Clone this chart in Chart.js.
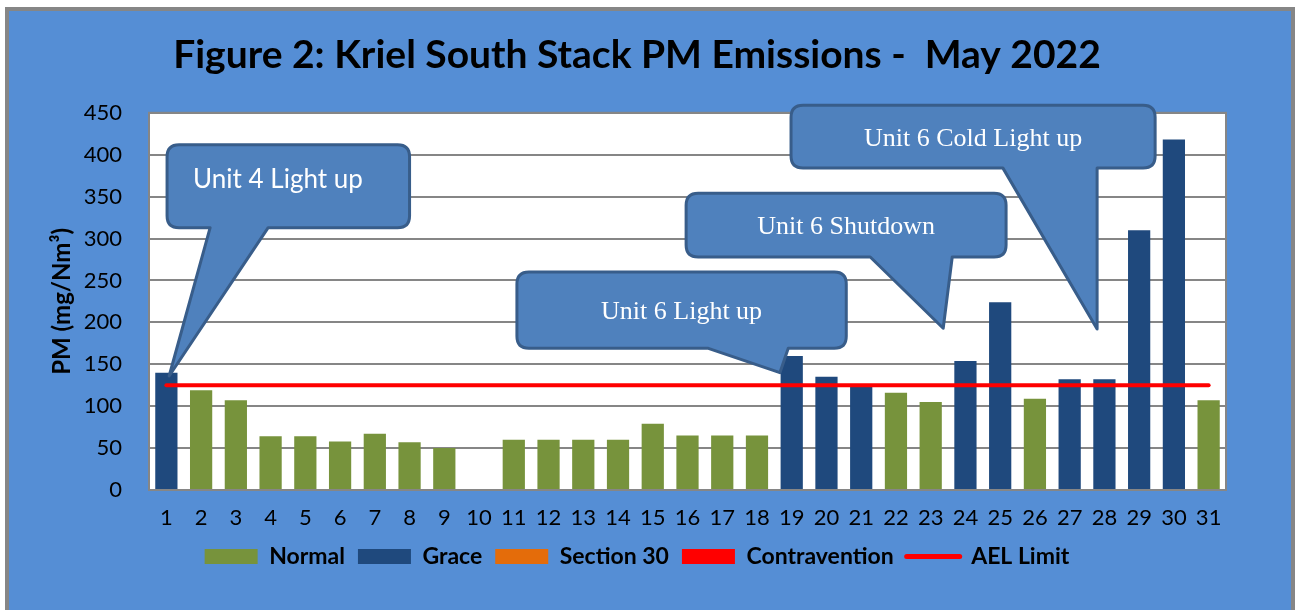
<!DOCTYPE html>
<html>
<head>
<meta charset="utf-8">
<script src="https://cdn.jsdelivr.net/npm/chart.js@4.4.0/dist/chart.umd.min.js"></script>
<style>
  html, body { margin: 0; padding: 0; background: #ffffff; }
  #wrap { width: 1300px; height: 610px; }
</style>
</head>
<body>
<div id="wrap"><canvas id="chart" width="1300" height="610"></canvas></div>
<script>
(function () {
    // days of May 2022
    var days = ['1','2','3','4','5','6','7','8','9','10','11','12','13','14','15','16',
                '17','18','19','20','21','22','23','24','25','26','27','28','29','30','31'];

    // PM in mg/Nm3, split by status (null = not that status)
    var normal = [null, 119, 107, 64, 64, 58, 67, 57, 50, null, 60, 60, 60, 60, 79, 65,
                  65, 65, null, null, null, 116, 105, null, null, 109, null, null, null, null, 107];
    var grace  = [140, null, null, null, null, null, null, null, null, null, null, null, null, null, null, null,
                  null, null, 160, 135, 124, null, null, 154, 224, null, 132, 132, 310, 418, null];
    var section30 = days.map(function () { return null; });
    var contravention = days.map(function () { return null; });
    var aelLimit = days.map(function () { return 125; });

    var yTicks = [0, 50, 100, 150, 200, 250, 300, 350, 400, 450];

    // callouts, in data units (x = day index, y = mg/Nm3)
    var callouts = [
        { text: 'Unit 4 Light up', font: '26px Lato', align: 'left', textX: 0.77, textY: 370,
          box: [0.02, 7.0, 412, 313], base: [1.26, 2.93], tip: [0.08, 136] },
        { text: 'Unit 6 Light up', font: '26px "Liberation Serif"', align: 'center', textY: 212,
          box: [10.09, 19.57, 260, 169], base: [15.6, 17.9], tip: [17.66, 140] },
        { text: 'Unit 6 Shutdown', font: '26px "Liberation Serif"', align: 'center', textY: 314,
          box: [14.96, 24.17, 354, 278], base: [20.26, 22.62], tip: [22.36, 193] },
        { text: 'Unit 6 Cold Light up', font: '26px "Liberation Serif"', align: 'center', textY: 418,
          box: [17.98, 28.46, 459, 384], base: [24.08, 26.79], tip: [26.79, 192] }
    ];

    var palette = { normal: '#77933C', grace: '#1F497D', s30: '#E46C0A', contra: '#FF0000', ael: '#FF0000' };

    var frame = {
        id: 'frame',
        beforeDraw: function (chart) {
            var ctx = chart.ctx;
            ctx.save();
            ctx.fillStyle = '#ffffff';
            ctx.fillRect(0, 0, chart.width, chart.height);
            ctx.fillStyle = '#558ED5';
            ctx.fillRect(5, 7, 1290, chart.height);
            ctx.strokeStyle = '#868686';
            ctx.lineWidth = 4;
            ctx.strokeRect(7, 9, 1286, chart.height);
            var a = chart.chartArea;
            ctx.fillStyle = '#ffffff';
            ctx.fillRect(a.left, a.top, a.right - a.left, a.bottom - a.top);
            ctx.restore();
        },
        afterDraw: function (chart) {
            var a = chart.chartArea, ctx = chart.ctx;
            ctx.save();
            ctx.strokeStyle = '#868686';
            ctx.lineWidth = 2;
            ctx.strokeRect(a.left, a.top, a.right - a.left, a.bottom - a.top);
            ctx.restore();
        }
    };

    var calloutPlugin = {
        id: 'callouts',
        afterDraw: function (chart) {
            var ctx = chart.ctx, xs = chart.scales.x, ys = chart.scales.y;
            var px = function (v) { return xs.getPixelForValue(v); };
            var py = function (v) { return ys.getPixelForValue(v); };
            callouts.forEach(function (c) {
                var l = px(c.box[0]), r = px(c.box[1]), t = py(c.box[2]), b = py(c.box[3]);
                var b0 = px(c.base[0]), b1 = px(c.base[1]);
                var tx = px(c.tip[0]), ty = py(c.tip[1]);
                var rad = 12;
                ctx.save();
                ctx.beginPath();
                ctx.moveTo(l + rad, t);
                ctx.lineTo(r - rad, t);
                ctx.quadraticCurveTo(r, t, r, t + rad);
                ctx.lineTo(r, b - rad);
                ctx.quadraticCurveTo(r, b, r - rad, b);
                ctx.lineTo(b1, b);
                ctx.lineTo(tx, ty);
                ctx.lineTo(b0, b);
                ctx.lineTo(l + rad, b);
                ctx.quadraticCurveTo(l, b, l, b - rad);
                ctx.lineTo(l, t + rad);
                ctx.quadraticCurveTo(l, t, l + rad, t);
                ctx.closePath();
                ctx.fillStyle = '#4F81BD';
                ctx.fill();
                ctx.lineWidth = 3;
                ctx.lineJoin = 'round';
                ctx.strokeStyle = '#385D8A';
                ctx.stroke();
                ctx.fillStyle = '#ffffff';
                ctx.font = c.font;
                ctx.textBaseline = 'middle';
                ctx.textAlign = c.align;
                var x = c.align === 'left' ? px(c.textX) : (l + r) / 2;
                ctx.fillText(c.text, x, py(c.textY));
                ctx.restore();
            });
        }
    };

    var ctx = document.getElementById('chart').getContext('2d');
    new Chart(ctx, {
        type: 'bar',
        data: {
            labels: days,
            datasets: [
                { label: 'Normal', data: normal, backgroundColor: palette.normal, order: 2 },
                { label: 'Grace', data: grace, backgroundColor: palette.grace, order: 2 },
                { label: 'Section 30', data: section30, backgroundColor: palette.s30, order: 2 },
                { label: 'Contravention', data: contravention, backgroundColor: palette.contra, order: 2 },
                { label: 'AEL Limit', type: 'line', data: aelLimit, borderColor: palette.ael,
                  backgroundColor: palette.ael, borderWidth: 4, pointRadius: 0, borderCapStyle: 'round', order: 1 }
            ]
        },
        options: {
            responsive: false,
            animation: false,
            events: [],
            categoryPercentage: 1,
            barPercentage: 0.64,
            layout: { padding: { left: 48, right: 74, top: 0, bottom: 32 } },
            plugins: {
                title: {
                    display: true,
                    text: 'Figure 2: Kriel South Stack PM Emissions -  May 2022',
                    color: '#000000',
                    font: { family: 'Lato', size: 39, weight: 'bold' },
                    padding: { top: 32, bottom: 34 }
                },
                tooltip: { enabled: false },
                legend: {
                    position: 'bottom',
                    labels: {
                        color: '#000000',
                        font: { family: 'Lato', size: 23, weight: 'bold' },
                        usePointStyle: true,
                        pointStyleWidth: 53,
                        boxHeight: 15,
                        padding: 13,
                        generateLabels: function (chart) {
                            return chart.data.datasets.map(function (ds, i) {
                                var isLine = ds.type === 'line';
                                return {
                                    text: ds.label,
                                    datasetIndex: i,
                                    fillStyle: ds.backgroundColor,
                                    strokeStyle: isLine ? ds.borderColor : ds.backgroundColor,
                                    lineWidth: isLine ? 5 : 0,
                                    lineCap: 'round',
                                    pointStyle: isLine ? 'line' : 'rect',
                                    fontColor: '#000000',
                                    hidden: false
                                };
                            });
                        }
                    }
                }
            },
            scales: {
                x: {
                    stacked: true,
                    grid: { display: false, drawTicks: false },
                    border: { display: false },
                    ticks: { color: '#000000', font: { family: 'Lato', size: 22 }, padding: 15, maxRotation: 0, autoSkip: false },
                    afterFit: function (scale) { scale.height = 42; }
                },
                y: {
                    min: 0,
                    max: 450,
                    afterBuildTicks: function (scale) {
                        scale.ticks = yTicks.map(function (v) { return { value: v }; });
                    },
                    grid: { color: '#868686', lineWidth: 2, drawTicks: false },
                    border: { display: false },
                    ticks: { color: '#000000', font: { family: 'Lato', size: 22 }, padding: 27 },
                    title: {
                        display: true,
                        text: 'PM (mg/Nm³)',
                        color: '#000000',
                        font: { family: 'Lato', size: 24, weight: 'bold' },
                        padding: 0
                    },
                    afterFit: function (scale) { scale.width = 101; }
                }
            }
        },
        plugins: [frame, calloutPlugin]
    });
})();
</script>
</body>
</html>
